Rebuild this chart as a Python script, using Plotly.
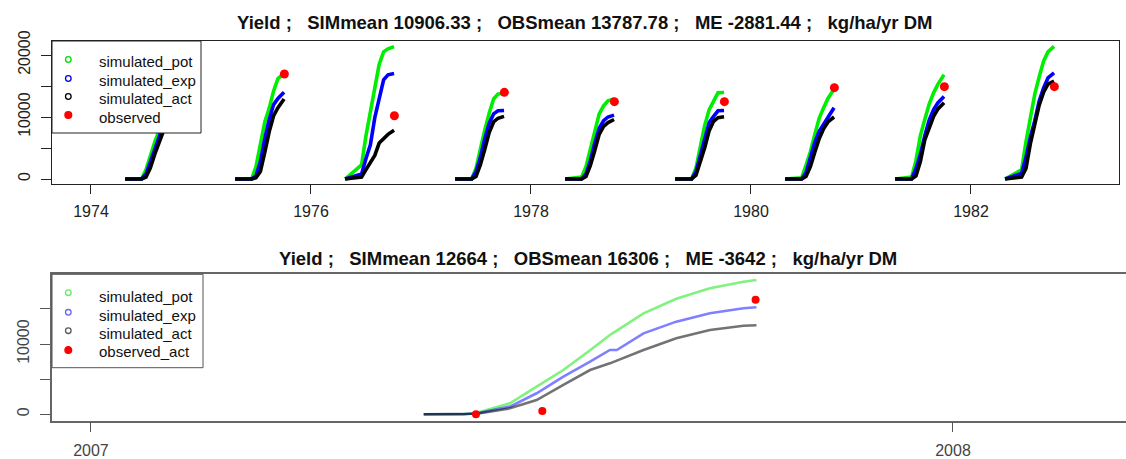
import plotly.graph_objects as go

# ---------------- data (top panel, 1974-1982 seasons) ----------------
seasons = [1974, 1975, 1976, 1977, 1978, 1979, 1980, 1981, 1982]
# fraction of the year at which the curves were read
season_frac = [0.31, 0.46, 0.50, 0.54, 0.58, 0.62, 0.66, 0.70, 0.755]

pot_top = [
    [0, 0, 1500, 3900, 6000, 7800, 10000, 11700, 12500],
    [0, 0, 2000, 6000, 9200, 11400, 14200, 16200, 17100],
    [0, 2300, 7000, 10800, 14600, 18500, 20500, 21000, 21350],
    [0, 0, 1700, 5000, 7900, 10600, 12900, 13700, 13850],
    [0, 300, 2000, 4900, 7700, 10500, 11800, 12600, 12900],
    [0, 0, 1800, 5300, 8700, 11200, 12600, 13900, 13950],
    [0, 200, 2200, 4400, 7200, 9800, 11500, 13000, 14500],
    [0, 300, 3000, 7000, 9600, 12100, 13900, 15300, 16800],
    [0, 1500, 6000, 10000, 13700, 16500, 19000, 20500, 21400],
]
exp_top = [
    [0, 0, 800, 2800, 4800, 7000, 8800, 10000, 10700],
    [0, 0, 500, 2800, 6500, 9600, 12000, 13000, 14000],
    [0, 800, 3300, 5500, 9900, 13300, 16000, 16800, 17000],
    [0, 0, 1200, 3500, 6500, 9000, 10500, 11000, 11050],
    [0, 0, 800, 3000, 5800, 8200, 9400, 10000, 10300],
    [0, 0, 1200, 3900, 6900, 9100, 10100, 11000, 11050],
    [0, 0, 1000, 3500, 5900, 7700, 8900, 10000, 11500],
    [0, 0, 1700, 4000, 7000, 9500, 11200, 12300, 13300],
    [0, 900, 3500, 6800, 9400, 12600, 14700, 16300, 17100],
]
act_top = [
    [0, 0, 300, 1800, 4000, 6000, 7800, 9000, 9550],
    [0, 0, 200, 1200, 4300, 7600, 10200, 11500, 12900],
    [0, 300, 1500, 2600, 3800, 5800, 6600, 7200, 7850],
    [0, 0, 400, 2300, 4800, 7500, 9200, 9800, 10100],
    [0, 0, 400, 2200, 4600, 7200, 8500, 9100, 9600],
    [0, 0, 600, 2800, 5100, 7800, 9300, 9900, 10050],
    [0, 0, 400, 2000, 4300, 6500, 8100, 9200, 10000],
    [0, 0, 500, 2800, 6300, 8200, 10100, 11300, 12300],
    [0, 300, 1700, 5700, 8800, 11900, 14000, 15300, 15800],
]
obs_top_frac = 0.758
obs_top = [13525, 16935, 10200, 13980, 12470, 12470, 14730, 14890, 14890]

top_xticks = [1974, 1976, 1978, 1980, 1982]
top_yticks = [0, 5000, 10000, 15000, 20000]
top_ylabels = ["0", "", "10000", "", "20000"]
top_legend = ["simulated_pot", "simulated_exp", "simulated_act", "observed"]

# ---------------- data (bottom panel, 2007 season) ----------------
bot_x = [2007.386, 2007.432, 2007.448, 2007.486, 2007.517, 2007.548, 2007.579,
         2007.602, 2007.610, 2007.641, 2007.679, 2007.718, 2007.757, 2007.772]
pot_bot = [0, 0, 230, 1560, 3930, 6300, 9100, 11280, 11900, 14360, 16440, 17920, 18860, 19100]
exp_bot = [0, 0, 140, 1090, 2990, 5350, 7480, 9150, 9150, 11520, 13180, 14370, 15080, 15220]
act_bot = [0, 0, 70, 850, 2030, 4170, 6300, 7250, 7630, 9150, 10810, 12000, 12600, 12664]
obs_bot_x = [2007.4466, 2007.5236, 2007.771]
obs_bot = [0, 470, 16306]

bot_xticks = [2007, 2008]
bot_yticks = [0, 5000, 10000, 15000]
bot_ylabels = ["0", "", "10000", ""]
bot_legend = ["simulated_pot", "simulated_exp", "simulated_act", "observed_act"]

title_top = "Yield ;   SIMmean 10906.33 ;   OBSmean 13787.78 ;   ME -2881.44 ;   kg/ha/yr DM"
title_bot = "Yield ;   SIMmean 12664 ;   OBSmean 16306 ;   ME -3642 ;   kg/ha/yr DM"

# ---------------- figure ----------------
W, H = 1126, 459
fig = go.Figure()


def season_series(vals):
    xs, ys = [], []
    for yr, row in zip(seasons, vals):
        xs += [yr + f for f in season_frac] + [None]
        ys += list(row) + [None]
    return xs, ys


top_cols = ["#00ee00", "#0000ff", "#000000"]
for vals, col in zip([pot_top, exp_top, act_top], top_cols):
    xs, ys = season_series(vals)
    fig.add_trace(go.Scatter(x=xs, y=ys, mode="lines", line=dict(color=col, width=3.6),
                             xaxis="x", yaxis="y", hoverinfo="skip"))
fig.add_trace(go.Scatter(x=[yr + obs_top_frac for yr in seasons], y=obs_top, mode="markers",
                         marker=dict(color="#ff0000", size=9), xaxis="x", yaxis="y"))

bot_cols = ["rgba(0,230,0,0.5)", "rgba(0,0,255,0.5)", "rgba(0,0,0,0.55)"]
for vals, col in zip([pot_bot, exp_bot, act_bot], bot_cols):
    fig.add_trace(go.Scatter(x=bot_x, y=vals, mode="lines", line=dict(color=col, width=2.6),
                             xaxis="x2", yaxis="y2", hoverinfo="skip"))
fig.add_trace(go.Scatter(x=obs_bot_x, y=obs_bot, mode="markers",
                         marker=dict(color="#ff0000", size=8), xaxis="x2", yaxis="y2"))

font = "Liberation Sans, Arial, sans-serif"
NB = "\u00a0"


def px(xp):
    return xp / W


def py(yp):
    return 1 - yp / H


shapes = []
annotations = []


def add_legend(box, labels, sym_rows, txt_rows, cols, filled, border):
    x0, y0, x1, y1 = box
    shapes.append(dict(type="rect", xref="paper", yref="paper", x0=px(x0), x1=px(x1),
                       y0=py(y1), y1=py(y0), line=dict(color=border, width=1),
                       fillcolor="white", layer="above"))
    for lab, sr, tr, col, fl in zip(labels, sym_rows, txt_rows, cols, filled):
        r = 3.4 if fl else 2.8
        shapes.append(dict(type="circle", xref="paper", yref="paper",
                           x0=px(68.3 - r), x1=px(68.3 + r), y0=py(sr + r), y1=py(sr - r),
                           line=dict(color=col, width=1.3),
                           fillcolor=col if fl else "rgba(0,0,0,0)", layer="above"))
        annotations.append(dict(text=lab, x=px(96.5), y=py(tr), xref="paper", yref="paper",
                                xanchor="left", yanchor="middle", showarrow=False,
                                font=dict(size=15, color="#111", family=font)))


add_legend((52, 41, 201, 133), top_legend, [59.5, 78.5, 96.5, 115.0], [61.5, 80.0, 98.8, 117.2],
           ["#00dd00", "#0000ff", "#000000", "#ff0000"], [False, False, False, True], "#222")
add_legend((52, 274.3, 203, 367.7), bot_legend, [292.7, 312.3, 330.7, 350.0],
           [296.5, 315.0, 333.3, 351.7],
           ["rgba(0,220,0,0.6)", "rgba(0,0,255,0.6)", "rgba(0,0,0,0.65)", "#ff0000"],
           [False, False, False, True], "#555")

annotations.append(dict(text="<b>" + title_top.replace(" ", NB) + "</b>", x=px(584), y=py(22.5),
                        xref="paper", yref="paper", showarrow=False, xanchor="center",
                        yanchor="middle", font=dict(size=18.5, color="#111", family=font)))
annotations.append(dict(text="<b>" + title_bot.replace(" ", NB) + "</b>", x=px(588), y=py(258),
                        xref="paper", yref="paper", showarrow=False, xanchor="center",
                        yanchor="middle", font=dict(size=18.5, color="#111", family=font)))

common = dict(showgrid=False, zeroline=False, showline=True, automargin=False, ticks="outside")

fig.update_layout(
    width=W, height=H, autosize=False, showlegend=False,
    margin=dict(l=0, r=0, t=0, b=0, pad=0, autoexpand=False),
    paper_bgcolor="white", plot_bgcolor="white",
    font=dict(family=font, size=16, color="#222"),
    xaxis=dict(domain=[px(52), px(1119)], range=[1973.6455, 1983.3455], anchor="y",
               tickvals=top_xticks, ticktext=[str(t) for t in top_xticks],
               ticklen=9, tickcolor="#222", mirror=True, linecolor="#222", linewidth=1,
               tickfont=dict(size=16, color="#222"), ticklabelstandoff=4, **common),
    yaxis=dict(domain=[py(184), py(41)], range=[-806, 22258], anchor="x",
               tickvals=top_yticks, ticktext=top_ylabels, tickangle=-90,
               ticklen=10, tickcolor="#222", mirror=True, linecolor="#222", linewidth=1,
               tickfont=dict(size=16, color="#222"), ticklabelstandoff=5, **common),
    xaxis2=dict(domain=[px(52), 1.0], range=[2006.9548, 2008.2007], anchor="y2",
                tickvals=bot_xticks, ticktext=[str(t) for t in bot_xticks],
                ticklen=10, tickcolor="#555", mirror=True, linecolor="#666", linewidth=1.5,
                tickfont=dict(size=16, color="#444"), ticklabelstandoff=4, **common),
    yaxis2=dict(domain=[py(420.7), py(274.3)], range=[-910, 19915], anchor="x2",
                tickvals=bot_yticks, ticktext=bot_ylabels, tickangle=-90,
                ticklen=10, tickcolor="#555", mirror=False, linecolor="#666", linewidth=1.5,
                tickfont=dict(size=16, color="#444"), ticklabelstandoff=5, **common),
    shapes=shapes,
    annotations=annotations,
)

fig.write_html("out.html", config={"displayModeBar": False},
               post_script="document.body.style.margin='0px';document.body.style.overflow='hidden';")
